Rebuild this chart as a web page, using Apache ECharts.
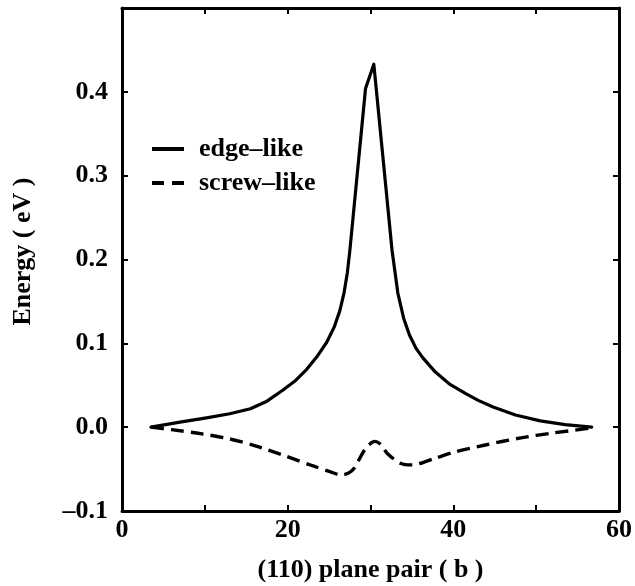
<!DOCTYPE html>
<html>
<head>
<meta charset="utf-8">
<script src="https://cdn.jsdelivr.net/npm/echarts@6/dist/echarts.min.js"></script>
<style>html,body{margin:0;padding:0;background:#fff}#c{width:635px;height:586px}</style>
</head>
<body>
<div id="c"></div>
<script>
// Data
const edgeX = [3.5, 7, 10.2, 13, 15.5, 17.5, 19.4, 21, 22.3, 23.6, 24.7, 25.6, 26.3, 26.8, 27.2, 27.5, 29.4, 30.4, 32.6, 33.3, 34, 34.7, 35.5, 36.3, 37.8, 39.6, 41.5, 43, 44.8, 47.5, 50.5, 53.5, 56.7];
const edgeY = [0, 0.006, 0.011, 0.016, 0.022, 0.031, 0.044, 0.056, 0.069, 0.085, 0.101, 0.119, 0.139, 0.16, 0.184, 0.21, 0.404, 0.433, 0.211, 0.16, 0.13, 0.11, 0.094, 0.083, 0.066, 0.051, 0.040, 0.032, 0.024, 0.0145, 0.0075, 0.003, 0];
const screwX = [3.5, 6, 9, 13, 16, 19.9, 23, 25.1, 26.4, 27.3, 28.1, 29.3, 30.5, 31.3, 32, 33.6, 35, 37.8, 40, 44, 48, 52, 56.7];
const screwY = [0, -0.003, -0.007, -0.014, -0.022, -0.035, -0.046, -0.053, -0.057, -0.055, -0.048, -0.027, -0.017, -0.021, -0.031, -0.043, -0.045, -0.037, -0.030, -0.021, -0.013, -0.007, -0.001];
const seriesNames = ['edge–like', 'screw–like'];
const xTickLabels = [0, 20, 40, 60];
const yTickLabels = ['–0.1', '0.0', '0.1', '0.2', '0.3', '0.4'];

const FONT = 'Liberation Serif';
const chart = echarts.init(document.getElementById('c'), null, {renderer: 'canvas'});
const pair = (xs, ys) => xs.map((x, i) => [x, ys[i]]);
const tickCommon = {show: true, inside: true, length: 6, lineStyle: {color: '#000', width: 2}};
const lineCommon = {show: true, onZero: false, lineStyle: {color: '#000', width: 3}};
const labelStyle = {color: '#000', fontFamily: FONT, fontWeight: 'bold', fontSize: 26};
const legendText = Object.assign({padding: [0, 0, 0, 10]}, labelStyle);

chart.setOption({
  animation: false,
  backgroundColor: '#fff',
  grid: {left: 122, right: 16, top: 8, bottom: 75, containLabel: false, outerBoundsMode: 'none'},
  legend: [
    {data: [{name: seriesNames[0], icon: 'rect'}], left: 152, top: 136, padding: 0,
     itemWidth: 32, itemHeight: 4, itemStyle: {color: '#000', borderWidth: 0}, textStyle: legendText},
    {data: [{name: seriesNames[1], icon: 'path://M0,0h12v4h-12z M20,0h12v4h-12z'}], left: 152, top: 170, padding: 0,
     itemWidth: 32, itemHeight: 4, itemStyle: {color: '#000', borderWidth: 0}, textStyle: legendText}
  ],
  xAxis: [
    {type: 'value', min: 0, max: 60, interval: 10, position: 'bottom',
     name: '(110) plane pair ( b )', nameLocation: 'middle', nameGap: 46,
     nameTextStyle: labelStyle,
     axisLine: lineCommon, axisTick: tickCommon, splitLine: {show: false},
     axisLabel: Object.assign({margin: 6, formatter: v => xTickLabels.indexOf(v) >= 0 ? String(v) : ''}, labelStyle)},
    {type: 'value', min: 0, max: 60, interval: 10, position: 'top',
     axisLine: lineCommon, axisTick: tickCommon, splitLine: {show: false}, axisLabel: {show: false}}
  ],
  yAxis: [
    {type: 'value', min: -0.1, max: 0.5, interval: 0.1, position: 'left',
     name: 'Energy ( eV )', nameLocation: 'middle', nameGap: 70, nameRotate: 90,
     nameTextStyle: Object.assign({padding: [0, 0, 16, 16]}, labelStyle),
     axisLine: lineCommon, axisTick: tickCommon, splitLine: {show: false},
     axisLabel: Object.assign({margin: 14, formatter: v => {
       const i = Math.round(v * 10) + 1;
       return (i >= 0 && i < yTickLabels.length) ? yTickLabels[i] : '';
     }}, labelStyle)},
    {type: 'value', min: -0.1, max: 0.5, interval: 0.1, position: 'right',
     axisLine: lineCommon, axisTick: tickCommon, splitLine: {show: false}, axisLabel: {show: false}}
  ],
  series: [
    {name: seriesNames[0], type: 'line', xAxisIndex: 0, yAxisIndex: 0, data: pair(edgeX, edgeY),
     showSymbol: false, symbol: 'none', smooth: false,
     lineStyle: {color: '#000', width: 3.2, type: 'solid', join: 'round', cap: 'round'}, itemStyle: {color: '#000'}},
    {name: seriesNames[1], type: 'line', xAxisIndex: 0, yAxisIndex: 0, data: pair(screwX, screwY),
     showSymbol: false, symbol: 'none', smooth: 0.3,
     lineStyle: {color: '#000', width: 3.4, type: [13, 7]}, itemStyle: {color: '#000'}}
  ]
});
</script>
</body>
</html>
